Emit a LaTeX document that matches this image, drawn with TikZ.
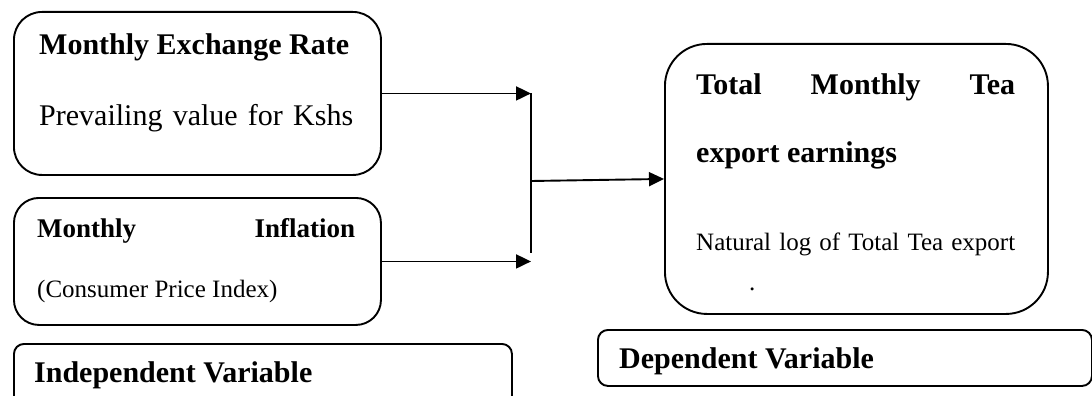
\documentclass[tikz,border=0pt]{standalone}
\usepackage{fontspec}
\setmainfont{Liberation Serif}
\usetikzlibrary{arrows.meta}
\begin{document}
\begin{tikzpicture}[x=1pt,y=-1pt,
  box/.style={draw, line width=1.9pt, inner sep=0pt, anchor=north west},
  txt/.style={anchor=base west, inner sep=0pt},
  conn/.style={line width=1.9pt},
  arr/.style={conn, -{Triangle[length=15pt,width=14pt]}},
  bthirty/.style={font=\fontsize{30}{36}\selectfont\bfseries},
  rthirty/.style={font=\fontsize{30}{36}\selectfont},
  btwsev/.style={font=\fontsize{27}{32}\selectfont\bfseries},
  rtwfive/.style={font=\fontsize{25}{30}\selectfont}
]
\useasboundingbox (0,0) rectangle (1092,396);
% boxes
\node[box, rounded corners=28pt, minimum width=367pt, minimum height=163pt] (b1) at (13,11) {};
\node[box, rounded corners=25pt, minimum width=367pt, minimum height=127pt] (b2) at (13,197) {};
\node[box, rounded corners=10pt, minimum width=498pt, minimum height=62pt] (ind) at (13,343) {};
\node[box, rounded corners=42pt, minimum width=383pt, minimum height=270pt] (b4) at (664,43) {};
\node[box, rounded corners=10pt, minimum width=494pt, minimum height=56pt] (dep) at (597,329) {};
% texts
\node[txt, bthirty] (t1a) at (39,55) {Monthly Exchange Rate};
\node[txt, rthirty] (t1b) at (39,125) {\makebox[314pt][s]{Prevailing value for Kshs}};
\node[txt, btwsev] (t2a) at (37,237) {\makebox[318pt][s]{Monthly\hfill Inflation}};
\node[txt, rtwfive] (t2b) at (37,297) {(Consumer Price Index)};
\node[txt, bthirty] (t3) at (34,382) {Independent Variable};
\node[txt, bthirty] (t4a) at (696,94) {\makebox[319pt][s]{Total Monthly Tea}};
\node[txt, bthirty] (t4b) at (696,162) {export earnings};
\node[txt, rtwfive] (t4c) at (696,250) {\makebox[319pt][s]{Natural log of Total Tea export}};
\node[txt, rtwfive] (t4d) at (749,290) {.};
\node[txt, bthirty] (t5) at (619,368) {Dependent Variable};
% connectors
\coordinate (j1) at (531,93);
\coordinate (j2) at (531,260);
\coordinate (j3) at (531,253);
\coordinate (jm) at (531,181);
\draw[arr] (b1.east) -- (b1.east -| j1);
\draw[arr] (b2.east) -- (b2.east -| j2);
\draw[conn] (j1) -- (j3);
\draw[arr] (jm) -- (b4.west);
\end{tikzpicture}
\end{document}
